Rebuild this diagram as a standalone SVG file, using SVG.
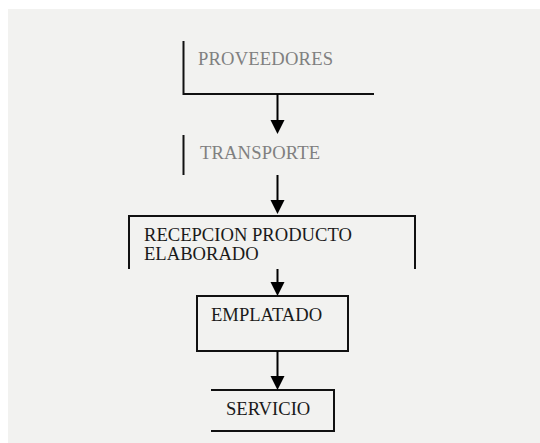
<svg xmlns="http://www.w3.org/2000/svg" width="540" height="443" viewBox="0 0 540 443">
<defs>
<marker id="ah" markerWidth="8" markerHeight="7" refX="8" refY="3.5" orient="auto" markerUnits="userSpaceOnUse" viewBox="0 0 8 7">
<path d="M0,0 L8,3.5 L0,7 Z" fill="#000"/>
</marker>
<style>
.ln{stroke:#111;stroke-width:2;fill:none}
.t{font-family:"Liberation Serif","Times New Roman",serif;font-size:18.6px;fill:#1a1a1a}
.tl{fill:#808080}
.c{stroke:#000;stroke-width:2;fill:none}
.hd{fill:#000}
</style>
</defs>
<rect x="8" y="9" width="532" height="434" fill="#f2f2f0"/>
<g id="proveedores">
<path class="ln" d="M183.5,41 V94 H374"/>
<text class="t tl" x="198" y="65" textLength="135" lengthAdjust="spacing">PROVEEDORES</text>
</g>
<g id="transporte">
<path class="ln" d="M183.5,135 V175"/>
<text class="t tl" x="200" y="159" textLength="120" lengthAdjust="spacing">TRANSPORTE</text>
</g>
<g id="recepcion">
<path class="ln" d="M129,269 V216 H415 V269"/>
<text class="t" x="144" y="240.5">RECEPCION PRODUCTO</text>
<text class="t" x="144" y="260">ELABORADO</text>
</g>
<g id="emplatado">
<rect class="ln" x="197" y="296" width="151" height="55"/>
<text class="t" x="211" y="320.5">EMPLATADO</text>
</g>
<g id="servicio">
<path class="ln" d="M211,390 H334 V431 H211"/>
<text class="t" x="226" y="415">SERVICIO</text>
</g>
<g id="connectors">
<line class="c" x1="277.5" y1="94" x2="277.5" y2="122"/>
<path class="hd" d="M270.5,120 L284.5,120 L277.5,134 Z"/>
<line class="c" x1="277.5" y1="175" x2="277.5" y2="202"/>
<path class="hd" d="M270.5,200 L284.5,200 L277.5,214 Z"/>
<line class="c" x1="277.5" y1="269" x2="277.5" y2="284"/>
<path class="hd" d="M270.5,282 L284.5,282 L277.5,296 Z"/>
<line class="c" x1="277.5" y1="351" x2="277.5" y2="378"/>
<path class="hd" d="M270.5,376 L284.5,376 L277.5,390 Z"/>
</g>
</svg>
